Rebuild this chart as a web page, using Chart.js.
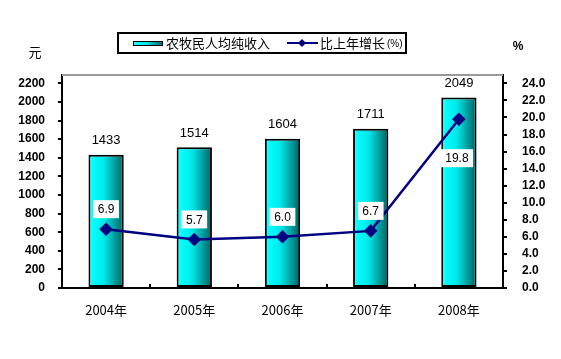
<!DOCTYPE html>
<html>
<head>
<meta charset="utf-8">
<script src="https://cdn.jsdelivr.net/npm/chart.js@4/dist/chart.umd.min.js"></script>
<style>
  body { margin: 0; background: #fff; }
  #wrap { width: 561px; height: 359px; }
</style>
</head>
<body>
<div id="wrap"><canvas id="myChart" width="561" height="359"></canvas></div>
<script>
const years = ['2004年', '2005年', '2006年', '2007年', '2008年'];
const income = [1433, 1514, 1604, 1711, 2049];
const growth = [6.9, 5.7, 6.0, 6.7, 19.8];
const leftTicks = [0, 200, 400, 600, 800, 1000, 1200, 1400, 1600, 1800, 2000, 2200];
const rightTicks = [0, 2, 4, 6, 8, 10, 12, 14, 16, 18, 20, 22, 24];
const incomeLabel = '农牧民人均纯收入';
const growthLabel = '比上年增长';

const FONT = '"Liberation Sans", Arial, sans-serif';
const CJK = '"Noto Sans CJK SC", "Liberation Sans", sans-serif';
const NAVY = '#000080';

const barGradient = (ctx, x0, x1) => {
    const g = ctx.createLinearGradient(x0, 0, x1, 0);
    g.addColorStop(0, '#40ffff');
    g.addColorStop(0.12, '#00ffff');
    g.addColorStop(0.45, '#00e6e6');
    g.addColorStop(1, '#005f5f');
    return g;
}

const labelsPlugin = {
    id: 'labels',
    afterDatasetsDraw(chart) {
        const ctx = chart.ctx;
        ctx.save();
        // value labels above the bars
        const bars = chart.getDatasetMeta(0).data;
        ctx.fillStyle = '#000';
        ctx.font = '13px ' + FONT;
        ctx.textAlign = 'center';
        ctx.textBaseline = 'middle';
        bars.forEach((el, i) => {
            ctx.fillText(String(income[i]), el.x, el.y - 14);
        });
        // growth labels in white boxes
        const pts = chart.getDatasetMeta(1).data;
        ctx.font = '12px ' + FONT;
        pts.forEach((el, i) => {
            const txt = growth[i].toFixed(1);
            const w = ctx.measureText(txt).width + 9;
            const h = 18;
            const last = i === pts.length - 1;
            const cx = last ? el.x - 2 : el.x;
            const cy = last ? el.y + 39 : el.y - 20;
            ctx.fillStyle = '#fff';
            ctx.fillRect(cx - w / 2, cy - h / 2, w, h);
            ctx.fillStyle = '#000';
            ctx.fillText(txt, cx, cy + 1);
        });
        ctx.restore();
    },
    afterDraw(chart) {
        const ctx = chart.ctx;
        const a = chart.chartArea;
        ctx.save();
        // grey top border of the plot
        ctx.strokeStyle = '#9a9a9a';
        ctx.lineWidth = 2;
        ctx.beginPath();
        ctx.moveTo(a.left, a.top);
        ctx.lineTo(a.right, a.top);
        ctx.stroke();
        // units
        ctx.fillStyle = '#000';
        ctx.textAlign = 'center';
        ctx.textBaseline = 'middle';
        ctx.font = '13px ' + CJK;
        ctx.fillText('元', 35, 52);
        ctx.font = 'bold 12px ' + FONT;
        ctx.fillText('%', 518, 47);
        // legend
        ctx.strokeStyle = '#000';
        ctx.lineWidth = 2;
        ctx.strokeRect(118, 33, 288, 20);
        ctx.fillStyle = barGradient(ctx, 133, 163);
        ctx.fillRect(133, 41, 30, 5);
        ctx.lineWidth = 1;
        ctx.strokeRect(133.5, 41.5, 29, 4);
        ctx.fillStyle = '#000';
        ctx.textAlign = 'left';
        ctx.font = '13px ' + CJK;
        ctx.fillText(incomeLabel, 166, 43);
        ctx.strokeStyle = NAVY;
        ctx.lineWidth = 2;
        ctx.beginPath();
        ctx.moveTo(287, 43);
        ctx.lineTo(318, 43);
        ctx.stroke();
        ctx.fillStyle = NAVY;
        ctx.beginPath();
        ctx.moveTo(302, 39); ctx.lineTo(306, 43); ctx.lineTo(302, 47); ctx.lineTo(298, 43);
        ctx.closePath();
        ctx.fill();
        ctx.fillStyle = '#000';
        ctx.fillText(growthLabel, 320, 43);
        const gw = ctx.measureText(growthLabel).width;
        ctx.font = '10px ' + FONT;
        ctx.fillText('(%)', 320 + gw + 2, 44);
        ctx.restore();
    }
};

const createChart = () => {
    const el = document.getElementById('myChart');
    new Chart(el, {
        data: {
            labels: years,
            datasets: [
                {
                    type: 'bar',
                    label: incomeLabel,
                    data: income,
                    yAxisID: 'y',
                    order: 2,
                    barPercentage: 0.4,
                    categoryPercentage: 1,
                    borderColor: '#000',
                    borderWidth: 2,
                    borderSkipped: false,
                    backgroundColor: (c) => {
                        const xs = c.chart.scales.x;
                        if (!xs || c.dataIndex === undefined) return '#00e0e0';
                        const cx = xs.getPixelForValue(c.dataIndex);
                        const w = xs.width / years.length * 0.4;
                        if (!isFinite(cx) || !isFinite(w) || w <= 0) return '#00e0e0';
                        return barGradient(c.chart.ctx, cx - w / 2, cx + w / 2);
                    }
                },
                {
                    type: 'line',
                    label: growthLabel,
                    data: growth,
                    yAxisID: 'y1',
                    order: 1,
                    borderColor: NAVY,
                    backgroundColor: NAVY,
                    borderWidth: 2.5,
                    pointStyle: 'rectRot',
                    pointRadius: 5,
                    pointBackgroundColor: NAVY,
                    pointBorderColor: NAVY,
                    tension: 0
                }
            ]
        },
        options: {
            responsive: false,
            animation: false,
            layout: { padding: { top: 75, left: 0, right: 0, bottom: 0 } },
            plugins: {
                legend: { display: false },
                tooltip: { enabled: false }
            },
            scales: {
                x: {
                    afterFit: (s) => { s.height = 71; },
                    grid: { offset: true, drawOnChartArea: false, tickLength: -4, color: '#000', lineWidth: 2 },
                    border: { color: '#000', width: 2 },
                    ticks: { color: '#000', font: { size: 13, family: CJK }, padding: 18 }
                },
                y: {
                    position: 'left',
                    min: 0,
                    max: 2290,
                    afterFit: (s) => { s.width = 62; },
                    afterBuildTicks: (s) => { s.ticks = leftTicks.map(v => ({ value: v })); },
                    grid: { drawOnChartArea: false, tickLength: 4, color: '#000', lineWidth: 2 },
                    border: { color: '#000', width: 2 },
                    ticks: {
                        color: '#000',
                        font: { size: 12, weight: 'bold', family: FONT },
                        padding: 13,
                        callback: (v) => String(v)
                    }
                },
                y1: {
                    position: 'right',
                    min: 0,
                    max: 2290 / 2200 * 24,
                    afterFit: (s) => { s.width = 58; },
                    afterBuildTicks: (s) => { s.ticks = rightTicks.map(v => ({ value: v })); },
                    grid: { drawOnChartArea: false, tickLength: 4, color: '#000', lineWidth: 2 },
                    border: { color: '#000', width: 2 },
                    ticks: {
                        color: '#000',
                        font: { size: 12, weight: 'bold', family: FONT },
                        padding: 15,
                        callback: (v) => Number(v).toFixed(1)
                    }
                }
            }
        },
        plugins: [labelsPlugin]
    });
}

(function() {
    createChart();
})();
</script>
</body>
</html>
